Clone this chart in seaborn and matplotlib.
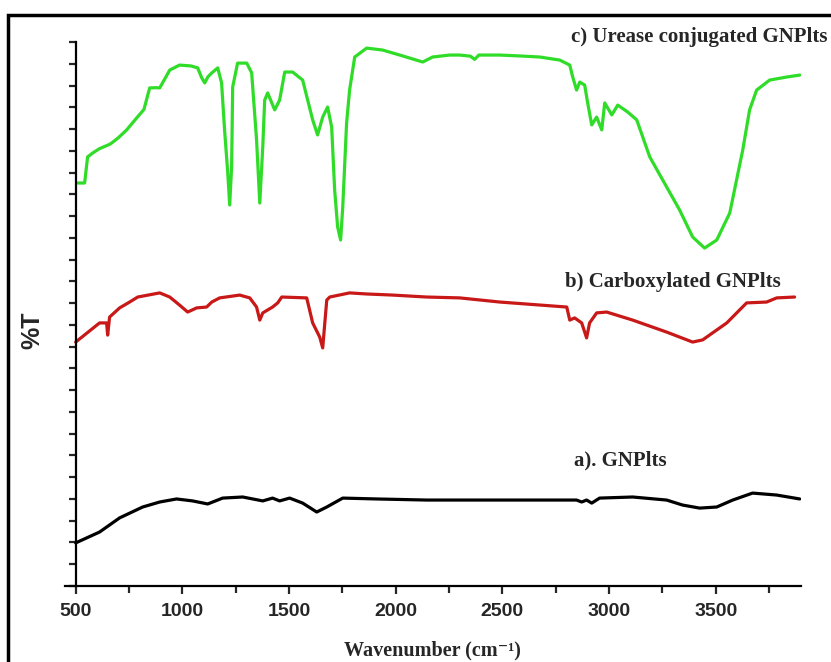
import numpy as np
import pandas as pd
import matplotlib
matplotlib.use("Agg")
import matplotlib.pyplot as plt
import seaborn as sns
from matplotlib.patches import Rectangle
from matplotlib.ticker import MultipleLocator, NullFormatter

# ---------------- data ----------------
wn_c = [509, 542, 556, 580, 612, 660, 669, 700, 739, 786, 820, 847, 880, 894, 941, 987,
        1040, 1072, 1091, 1105, 1120, 1138, 1166, 1184, 1198, 1213, 1222, 1231, 1236,
        1259, 1302, 1325, 1348, 1363, 1377, 1386, 1400, 1433, 1456, 1480, 1517, 1564,
        1611, 1634, 1658, 1681, 1700, 1714, 1728, 1742, 1752, 1770, 1784, 1808, 1864,
        1939, 2019, 2127, 2173, 2253, 2300, 2350, 2370, 2390, 2488, 2600, 2675, 2769,
        2816, 2830, 2848, 2863, 2886, 2900, 2919, 2942, 2966, 2980, 3013, 3041, 3088,
        3130, 3191, 3270, 3331, 3392, 3448, 3505, 3566, 3627, 3659, 3692, 3753, 3833, 3894]
t_c = [18.52, 18.52, 19.72, 19.90, 20.10, 20.30, 20.36, 20.60, 20.96, 21.51, 21.90, 22.89,
       22.90, 22.89, 23.71, 23.94, 23.90, 23.81, 23.35, 23.12, 23.40, 23.58, 23.81, 23.12,
       20.96, 18.98, 17.51, 19.26, 22.93, 24.03, 24.03, 23.58, 20.50, 17.60, 20.17, 22.33,
       22.66, 21.88, 22.33, 23.62, 23.62, 23.25, 21.42, 20.73, 21.55, 22.01, 21.09, 18.20,
       16.50, 15.90, 17.42, 21.28, 22.79, 24.31, 24.72, 24.63, 24.40, 24.08, 24.31, 24.40,
       24.40, 24.35, 24.20, 24.40, 24.40, 24.35, 24.31, 24.17, 23.94, 23.39, 22.79, 23.16,
       23.02, 22.20, 21.19, 21.55, 20.96, 22.20, 21.65, 22.10, 21.78, 21.42, 19.72, 18.34,
       17.28, 16.04, 15.53, 15.90, 17.14, 20.04, 21.88, 22.79, 23.25, 23.39, 23.48]

wn_b = [500, 612, 645, 650, 659, 706, 753, 791, 894, 941, 987, 1025, 1067, 1114, 1138,
        1175, 1269, 1316, 1348, 1363, 1377, 1423, 1447, 1466, 1583, 1611, 1644, 1658,
        1667, 1677, 1691, 1784, 1864, 1986, 2145, 2300, 2488, 2802, 2816, 2839, 2872,
        2895, 2909, 2942, 2989, 3111, 3270, 3392, 3439, 3552, 3645, 3739, 3786, 3870]
t_b = [11.21, 12.09, 12.09, 11.53, 12.36, 12.78, 13.05, 13.28, 13.47, 13.28, 12.91, 12.59,
       12.78, 12.82, 13.05, 13.24, 13.37, 13.24, 12.82, 12.22, 12.55, 12.82, 13.01, 13.28,
       13.24, 12.09, 11.44, 10.94, 11.99, 13.14, 13.28, 13.47, 13.42, 13.37, 13.28, 13.24,
       13.05, 12.82, 12.22, 12.32, 12.09, 11.40, 12.09, 12.55, 12.59, 12.22, 11.67, 11.21,
       11.31, 12.09, 13.01, 13.05, 13.24, 13.28]

wn_a = [500, 612, 706, 814, 894, 973, 1048, 1119, 1189, 1283, 1377, 1423, 1456, 1503,
        1564, 1630, 1677, 1752, 1911, 2145, 2300, 2488, 2848, 2872, 2895, 2919, 2956,
        3111, 3270, 3345, 3425, 3505, 3580, 3673, 3786, 3894]
t_a = [1.98, 2.48, 3.13, 3.63, 3.86, 4.00, 3.91, 3.77, 4.04, 4.09, 3.91, 4.04, 3.91, 4.04,
       3.81, 3.40, 3.63, 4.04, 4.00, 3.95, 3.95, 3.95, 3.95, 3.86, 3.95, 3.81, 4.04,
       4.09, 3.95, 3.72, 3.58, 3.63, 3.95, 4.27, 4.18, 4.00]

labels = ["c) Urease conjugated GNPlts", "b) Carboxylated GNPlts", "a). GNPlts"]
colors = ["#2fdc28", "#c81818", "#000000"]
xticks = [500, 1000, 1500, 2000, 2500, 3000, 3500]

# ---------------- figure ----------------
sns.set_style("white")
fig = plt.figure(figsize=(8.31, 6.62), dpi=100)
ax = fig.add_axes([65 / 831, 76 / 662, 736 / 831, 544 / 662])

series = [(wn_c, t_c), (wn_b, t_b), (wn_a, t_a)]
for (x, y), col in zip(series, colors):
    sns.lineplot(x=x, y=y, ax=ax, color=col, linewidth=2.3, sort=False, estimator=None)

ax.set_xlim(450, 3900)
ax.set_ylim(0, 25)

for s in ["top", "right"]:
    ax.spines[s].set_visible(False)
ax.spines["left"].set_position(("data", 500))
for s in ["left", "bottom"]:
    ax.spines[s].set_linewidth(1.6)
    ax.spines[s].set_color("black")

ax.set_xticks(xticks)
ax.xaxis.set_minor_locator(MultipleLocator(250))
ax.yaxis.set_major_locator(MultipleLocator(1))
ax.yaxis.set_major_formatter(NullFormatter())
ax.tick_params(axis="x", which="major", direction="out", length=6, width=1.6,
               bottom=True, labelsize=14, pad=6)
ax.tick_params(axis="x", which="minor", direction="out", length=5, width=1.6, bottom=True)
ax.tick_params(axis="y", which="major", direction="out", length=5, width=1.6, left=True)
for lab in ax.get_xticklabels():
    lab.set_fontfamily("Liberation Sans")
    lab.set_fontweight("bold")

fig.text(432 / 831, 1 - 650 / 662, "Wavenumber (cm⁻¹)", ha="center", va="center",
         fontsize=14.5, fontweight="bold", family=["Liberation Serif", "DejaVu Serif"])
fig.text(32 / 831, 1 - 330 / 662, "%T", ha="center", va="center", rotation=90,
         fontsize=18, fontweight="bold", family="Liberation Sans")

pos = [(3425, 25.23), (3298, 13.97), (3055, 5.79)]
for lab, (px, py) in zip(labels, pos):
    ax.text(px, py, lab, ha="center", va="center", fontsize=15, fontweight="bold",
            family="Liberation Serif", clip_on=False)

fig.patches.append(Rectangle((8 / 831, -0.05), 1.2, 1 - 15 / 662 + 0.05,
                             transform=fig.transFigure, fill=False,
                             edgecolor="black", linewidth=2.5))

fig.savefig("out.png", dpi=100)
